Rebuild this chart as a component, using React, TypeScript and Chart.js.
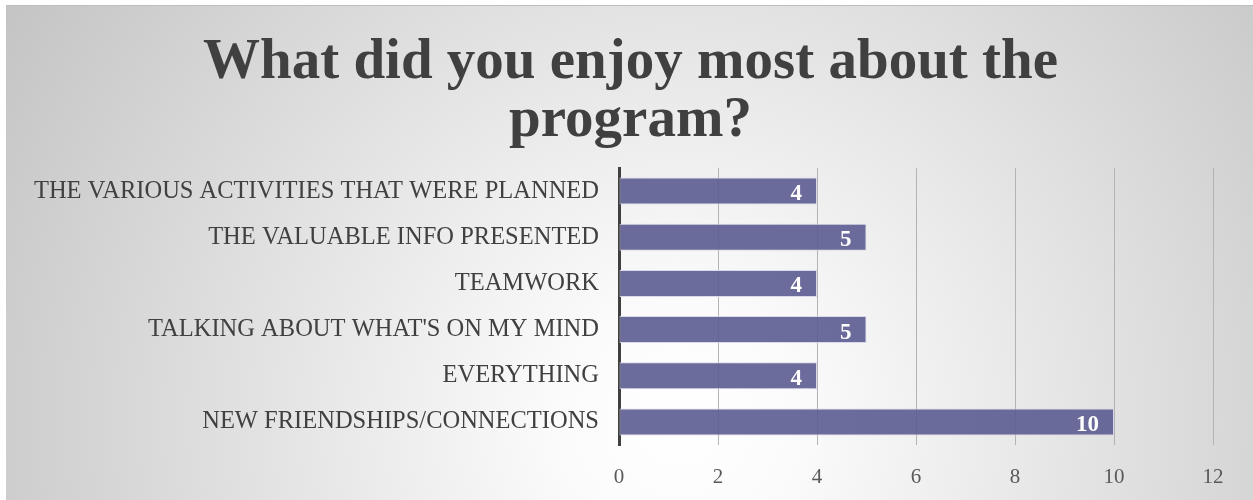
import React, { useEffect, useRef } from "react";
import { Chart, registerables } from "chart.js";

Chart.register(...registerables);

const categories = [
  "THE VARIOUS ACTIVITIES THAT WERE PLANNED",
  "THE VALUABLE INFO PRESENTED",
  "TEAMWORK",
  "TALKING ABOUT WHAT'S ON MY MIND",
  "EVERYTHING",
  "NEW FRIENDSHIPS/CONNECTIONS",
];
const counts = [4, 5, 4, 5, 4, 10];
const xMin = 0;
const xMax = 12;
const xStep = 2;
const titleLines = ["What did you enjoy most about the", "program?"];

const SERIF = "'Liberation Serif', 'DejaVu Serif', serif";

const backgroundPlugin = {
  id: "bgGradient",
  beforeDraw(chart: any) {
    const { ctx, width, height } = chart;
    ctx.save();
    const cx = width * 0.54;
    const cy = height * 0.84;
    const r = Math.hypot(cx, cy);
    const g = ctx.createRadialGradient(cx, cy, 0, cx, cy, r);
    g.addColorStop(0, "#ffffff");
    g.addColorStop(0.15, "#fbfbfb");
    g.addColorStop(1, "#c4c4c4");
    ctx.fillStyle = g;
    ctx.fillRect(0, 0, width, height);
    ctx.strokeStyle = "#bdbdbd";
    ctx.lineWidth = 1;
    ctx.beginPath();
    ctx.moveTo(0, 0.5);
    ctx.lineTo(width, 0.5);
    ctx.stroke();
    ctx.restore();
  },
};

const titlePlugin = {
  id: "centeredTitle",
  afterDraw(chart: any) {
    const { ctx, width } = chart;
    ctx.save();
    ctx.fillStyle = "#404040";
    ctx.font = `bold 57px ${SERIF}`;
    ctx.textAlign = "center";
    ctx.textBaseline = "alphabetic";
    titleLines.forEach((line, i) => {
      ctx.fillText(line, width / 2 + 1, 73 + i * 58);
    });
    ctx.restore();
  },
};

const dataLabelPlugin = {
  id: "barValueLabels",
  afterDatasetsDraw(chart: any) {
    const { ctx } = chart;
    const meta = chart.getDatasetMeta(0);
    const data = chart.data.datasets[0].data;
    ctx.save();
    ctx.fillStyle = "#ffffff";
    ctx.font = `bold 23px ${SERIF}`;
    ctx.textAlign = "right";
    ctx.textBaseline = "alphabetic";
    meta.data.forEach((bar: any, i: number) => {
      ctx.fillText(String(data[i]), bar.x - 15, bar.y + 9);
    });
    ctx.restore();
  },
};

export default function App() {
  const ref = useRef<HTMLCanvasElement | null>(null);

  useEffect(() => {
    if (!ref.current) return;
    const chart = new Chart(ref.current, {
      type: "bar",
      data: {
        labels: categories,
        datasets: [
          {
            data: counts,
            backgroundColor: "rgba(92,92,145,0.9)",
            borderColor: "rgba(215,215,232,0.95)",
            borderWidth: 1,
            borderSkipped: false,
            barPercentage: 0.584,
            categoryPercentage: 1,
          },
        ],
      },
      options: {
        indexAxis: "y",
        responsive: false,
        animation: false,
        layout: { padding: { left: 0, right: 40, top: 163, bottom: 0 } },
        plugins: {
          legend: { display: false },
          tooltip: { enabled: false },
          title: { display: false },
        },
        scales: {
          x: {
            type: "linear",
            min: xMin,
            max: xMax,
            ticks: {
              stepSize: xStep,
              color: "#595959",
              font: { family: SERIF, size: 21 },
              padding: 20,
            },
            grid: { color: "#b3b3b3", lineWidth: 1, drawTicks: false },
            border: { display: false },
            afterFit: (s: any) => {
              s.height = 55;
            },
          },
          y: {
            ticks: {
              color: "#404040",
              font: { family: SERIF, size: 24.5 },
              padding: 20,
            },
            grid: { display: false, drawTicks: false },
            border: { display: true, color: "#404040", width: 3 },
            afterFit: (s: any) => {
              s.width = 613;
            },
          },
        },
      },
      plugins: [backgroundPlugin, dataLabelPlugin, titlePlugin],
    });
    return () => chart.destroy();
  }, []);

  return (
    <div style={{ position: "fixed", left: 6, top: 5, width: 1247, height: 495 }}>
      <canvas ref={ref} width={1247} height={495} style={{ display: "block" }} />
    </div>
  );
}
